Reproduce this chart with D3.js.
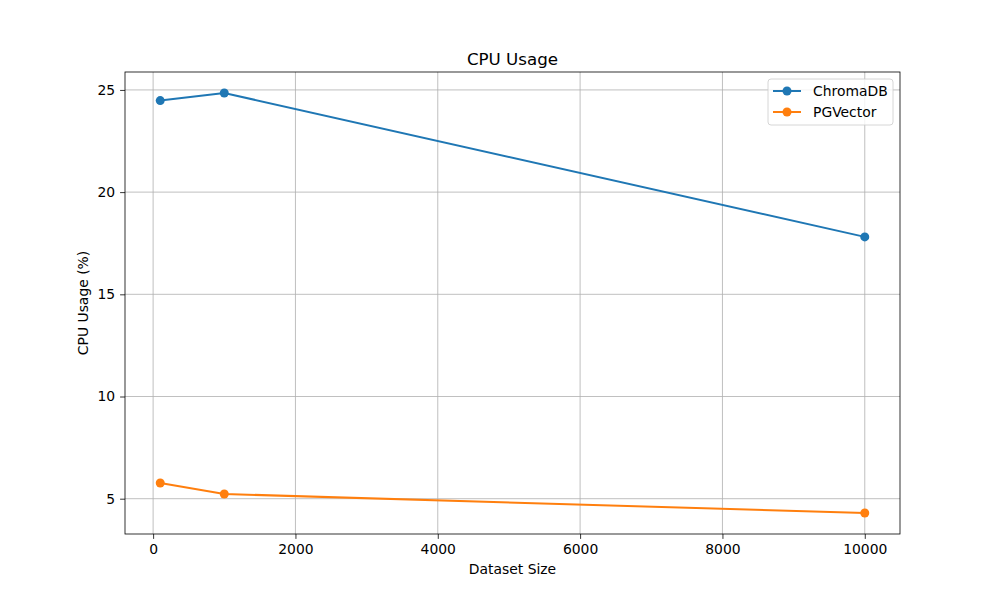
<!DOCTYPE html>
<html>
<head>
<meta charset="utf-8">
<script src="https://cdn.jsdelivr.net/npm/d3@7"></script>
<style>
  body { margin: 0; background: #fff; }
  svg text { font-family: "DejaVu Sans", sans-serif; fill: #000; }
</style>
</head>
<body>
<div id="chart"></div>
<script>
var datasetSizes = [100, 1000, 10000];
var chromaCpu = [24.48, 24.85, 17.81];
var pgvectorCpu = [5.77, 5.23, 4.30];
var xTicks = [0, 2000, 4000, 6000, 8000, 10000];
var yTicks = [5, 10, 15, 20, 25];
var seriesNames = ["ChromaDB", "PGVector"];
var seriesColors = ["#1f77b4", "#ff7f0e"];

var W = 1000, H = 600;
var margin = { top: 72, right: 100, bottom: 66, left: 125 };
var width = W - margin.left - margin.right,
  height = H - margin.top - margin.bottom;

var svg = d3.select("#chart").append("svg")
  .attr("width", W)
  .attr("height", H);

// matplotlib style 5% margins
var xmin = d3.min(datasetSizes), xmax = d3.max(datasetSizes);
var xpad = (xmax - xmin) * 0.05;
var allY = chromaCpu.concat(pgvectorCpu);
var ymin = d3.min(allY), ymax = d3.max(allY);
var ypad = (ymax - ymin) * 0.05;

var x = d3.scaleLinear().domain([xmin - xpad, xmax + xpad]).range([0, width]);
var y = d3.scaleLinear().domain([ymin - ypad, ymax + ypad]).range([height, 0]);

var g = svg.append("g").attr("transform", "translate(" + margin.left + "," + margin.top + ")");

// grid
g.append("g").selectAll("line").data(xTicks).enter().append("line")
  .attr("x1", function (d) { return x(d); }).attr("x2", function (d) { return x(d); })
  .attr("y1", 0).attr("y2", height)
  .attr("stroke", "#b0b0b0").attr("stroke-width", 0.8);
g.append("g").selectAll("line").data(yTicks).enter().append("line")
  .attr("y1", function (d) { return y(d); }).attr("y2", function (d) { return y(d); })
  .attr("x1", 0).attr("x2", width)
  .attr("stroke", "#b0b0b0").attr("stroke-width", 0.8);

// axes
var xAxis = d3.axisBottom(x).tickValues(xTicks).tickSize(4.9).tickPadding(4.9).tickFormat(d3.format("d"));
var yAxis = d3.axisLeft(y).tickValues(yTicks).tickSize(4.9).tickPadding(4.9).tickFormat(d3.format("d"));

var gx = g.append("g").attr("transform", "translate(0," + height + ")").call(xAxis);
var gy = g.append("g").call(yAxis);
[gx, gy].forEach(function (a) {
  a.attr("font-size", null).attr("font-family", null);
  a.select(".domain").remove();
  a.selectAll("line").attr("stroke", "#000").attr("stroke-width", 0.8);
  a.selectAll("text").style("font-size", "13.9px");
});

// frame
g.append("rect").attr("x", 0).attr("y", 0).attr("width", width).attr("height", height)
  .attr("fill", "none").attr("stroke", "#000").attr("stroke-width", 0.8);

// lines
var line = d3.line()
  .x(function (d, i) { return x(datasetSizes[i]); })
  .y(function (d) { return y(d); });

[chromaCpu, pgvectorCpu].forEach(function (vals, s) {
  g.append("path").datum(vals)
    .attr("d", line)
    .attr("fill", "none")
    .attr("stroke", seriesColors[s])
    .attr("stroke-width", 2);
  g.append("g").selectAll("circle").data(vals).enter().append("circle")
    .attr("cx", function (d, i) { return x(datasetSizes[i]); })
    .attr("cy", function (d) { return y(d); })
    .attr("r", 4.5)
    .attr("fill", seriesColors[s]);
});

// title and labels
svg.append("text").attr("x", margin.left + width / 2).attr("y", margin.top - 7)
  .attr("text-anchor", "middle").style("font-size", "16.7px").text("CPU Usage");
svg.append("text").attr("x", margin.left + width / 2).attr("y", 574)
  .attr("text-anchor", "middle").style("font-size", "13.9px").text("Dataset Size");
svg.append("text")
  .attr("transform", "translate(88," + (margin.top + height / 2) + ") rotate(-90)")
  .attr("text-anchor", "middle").style("font-size", "13.9px").text("CPU Usage (%)");

// legend
var lg = svg.append("g").attr("transform", "translate(768,79)");
lg.append("rect").attr("width", 125).attr("height", 46).attr("rx", 3)
  .attr("fill", "#fff").attr("fill-opacity", 0.8)
  .attr("stroke", "#cccccc").attr("stroke-width", 0.8);
seriesNames.forEach(function (name, i) {
  var ly = 12 + i * 21;
  lg.append("line").attr("x1", 5).attr("x2", 33).attr("y1", ly).attr("y2", ly)
    .attr("stroke", seriesColors[i]).attr("stroke-width", 2);
  lg.append("circle").attr("cx", 19).attr("cy", ly).attr("r", 4.5).attr("fill", seriesColors[i]);
  lg.append("text").attr("x", 45).attr("y", ly + 5).style("font-size", "13.9px").text(name);
});
</script>
</body>
</html>
